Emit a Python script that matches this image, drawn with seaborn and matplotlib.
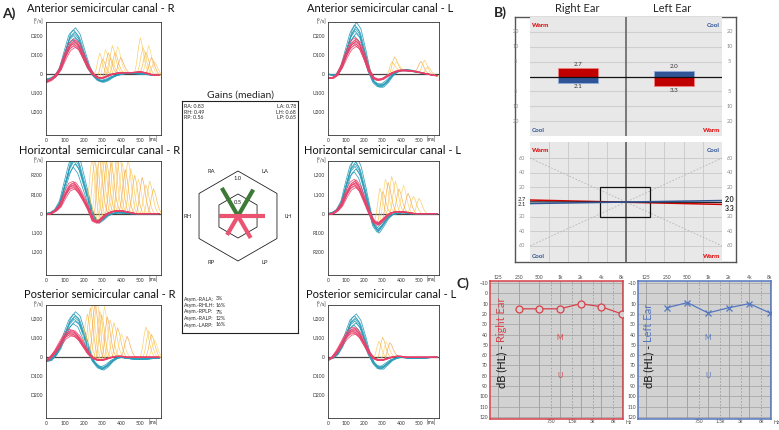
import numpy as np
import pandas as pd
import matplotlib
matplotlib.use('Agg')
import matplotlib.pyplot as plt
from matplotlib.patches import Polygon, Rectangle
import seaborn as sns

# ======================= DATA =======================
# time grid of the read-off curves (ms)
T = [0, 25, 50, 75, 100, 125, 150, 175, 200, 225, 250, 275, 300,
     325, 350, 375, 400, 425, 450, 475, 500, 525, 550, 575, 600]

# Anterior R
AR_BLUE = [-30, -25, -10, 30, 110, 190, 215, 185, 110, 40, -5, -30, -38,
           -30, -15, -5, 0, 5, 5, 3, 2, 0, -3, -5, -5]
AR_PINK = [-40, -30, -10, 25, 90, 145, 165, 145, 90, 35, 0, -18, -20,
           -10, 0, 5, 8, 8, 8, 10, 12, 8, 0, -5, -5]
AR_SACC = [(255, 130), (270, 100), (285, 145), (300, 120), (312, 90), (322, 150),
           (336, 110), (350, 140), (366, 80), (470, 180), (485, 130), (500, 110),
           (515, 150), (530, 90), (545, 70)]
# Horizontal R
HR_BLUE = [0, 5, 20, 60, 150, 240, 290, 250, 160, 70, -10, -45, -30,
           -10, 0, 5, 5, 2, 0, 0, 0, 0, 0, 0, 0]
HR_PINK = [-5, 0, 15, 40, 95, 140, 150, 120, 75, 25, -35, -45, -20,
           0, 10, 15, 15, 10, 5, 0, 0, 0, 0, 0, 0]
HR_SACC = [(215, 320), (228, 330), (240, 300), (252, 340), (265, 320), (278, 300),
           (290, 280), (300, 330), (315, 260), (330, 310), (345, 280), (360, 300),
           (375, 250), (390, 220), (405, 280), (420, 230), (440, 200), (460, 180),
           (480, 190), (500, 150), (520, 170), (540, 130)]
# Posterior R
PR_BLUE = [-20, -15, 10, 50, 120, 180, 210, 190, 120, 40, -20, -50, -60,
           -45, -20, -5, 0, -5, -8, -10, -10, -10, -8, -5, -5]
PR_PINK = [-20, 0, 30, 70, 110, 130, 125, 100, 60, 20, -5, -15, -15,
           -8, 0, 5, 5, 0, 0, 0, 0, 0, 0, 0, 0]
PR_SACC = [(190, 200), (205, 250), (215, 280), (230, 300), (240, 320), (255, 260),
           (265, 240), (280, 280), (295, 220), (310, 200), (330, 180), (350, 150),
           (370, 120), (400, 110), (500, 160), (515, 140), (530, 120), (545, 90)]
# Anterior L
AL_BLUE = [0, -5, 0, 40, 120, 200, 240, 210, 120, 20, -40, -60, -60,
           -40, -10, 10, 20, 22, 20, 15, 10, 5, 0, -5, -8]
AL_PINK = [-20, -20, -5, 40, 100, 150, 170, 150, 90, 20, -20, -30, -25,
           -10, 5, 15, 20, 20, 18, 15, 10, 5, 0, -5, -8]
AL_SACC = [(320, 60), (335, 80), (345, 50), (480, 60), (500, 70), (520, 40)]
# Horizontal L
HL_BLUE = [0, 5, 20, 60, 150, 230, 260, 220, 130, 30, -60, -90, -60,
           -25, -5, 0, 5, 5, 0, 0, 0, 0, 0, 0, 0]
HL_PINK = [-5, 0, 15, 45, 100, 145, 160, 130, 70, 10, -40, -55, -35,
           -10, 5, 10, 10, 8, 5, 0, 0, 0, 0, 0, 0]
HL_SACC = [(255, 180), (270, 150), (285, 200), (300, 170), (320, 190), (340, 160),
           (360, 120), (385, 140), (410, 100), (440, 90), (470, 80)]
# Posterior L
PL_BLUE = [-10, -5, 15, 55, 120, 180, 200, 170, 100, 20, -30, -55, -55,
           -35, -15, -5, 0, -3, -5, -5, -5, -5, -3, 0, 0]
PL_PINK = [-15, 0, 30, 70, 110, 135, 140, 115, 70, 25, -5, -15, -15,
           -8, 0, 5, 5, 0, 0, 0, 0, 0, 0, 0, 0]
PL_SACC = [(250, 100), (270, 120), (290, 90), (310, 80)]

# trace spread (amplitude factor, time shift in ms)
BLUE_SCALE = [0.84, 0.9, 0.95, 1.0, 1.04, 1.09, 1.14]
BLUE_SHIFT = [-6, 4, -2, 0, 3, -4, 6]
PINK_SCALE = [0.86, 0.9, 0.94, 0.97, 1.0, 1.03, 1.06, 1.1, 1.13]
PINK_SHIFT = [5, -3, 2, -6, 0, 4, -2, 6, -5]
SACC_T = [0, 10, 20, 30, 40, 50, 60, 70, 80]
SACC_SHAPE = [0, 0.25, 0.7, 1.0, 0.8, 0.45, 0.2, 0.05, 0]
SACC_COLORS = ['#f9c74f', '#f6b23e', '#fbd56c', '#f4a04a', '#fcc65a']

TICKS_A = ['D200', 'D100', '0', 'U100', 'U200']
TICKS_H = ['R200', 'R100', '0', 'L100', 'L200']
TICKS_HL = ['L200', 'L100', '0', 'R100', 'R200']
TICKS_P = ['U200', 'U100', '0', 'D100', 'D200']

# Gains
GAIN_NAMES = ['RA', 'LA', 'RH', 'LH', 'RP', 'LP']
GAIN_VALUES = [0.83, 0.78, 0.49, 0.68, 0.56, 0.65]
GAIN_ANGLES = [120, 60, 180, 0, 240, 300]
ASYM_NAMES = ['Asym.-RALA:', 'Asym.-RHLH:', 'Asym.-RPLP:', 'Asym.-RALP:', 'Asym.-LARP:']
ASYM_VALUES = ['3%', '16%', '7%', '12%', '16%']

# Caloric
EARS = ['Right Ear', 'Left Ear']
WARM = [2.7, 3.3]      # right warm up, left warm down
COOL = [2.1, 2.0]      # right cool down, left cool up
CAL_TICKS = [5, 10, 20]
RED_LINE = [2.7, -3.3]
BLUE_LINE = [-2.1, 2.0]
BLACK_LINE = [0.3, -0.65]

# Audiograms
FREQS = [250, 500, 1000, 2000, 4000, 8000]
RIGHT_DB = [15, 15, 15, 10, 13, 20]
LEFT_DB = [14, 9, 19, 14, 10, 19]
FREQ_MAIN = [125, 250, 500, 1000, 2000, 4000, 8000]
FREQ_MAIN_LBL = ['125', '250', '500', '1k', '2k', '4k', '8k']
FREQ_MID = [750, 1500, 3000, 6000]
FREQ_MID_LBL = ['750', '1.5k', '3k', '6k']
M_DB, U_DB = 43, 80

# ======================= STYLE =======================
sns.set_theme(style='white')
plt.rcParams['font.family'] = ['Liberation Sans Narrow', 'Lato', 'DejaVu Sans']
plt.rcParams['axes.linewidth'] = 0.6

BLUE_C = '#2a9cb8'
PINK_C = '#e8406a'
W, H = 779, 430
fig = plt.figure(figsize=(W / 100, H / 100), dpi=100)
fig.patch.set_facecolor('white')


def pax(x0, y0, x1, y1):
    return fig.add_axes([x0 / W, 1 - y1 / H, (x1 - x0) / W, (y1 - y0) / H])


def ftext(x, y, s, **kw):
    return fig.text(x / W, 1 - y / H, s, **kw)


def impulse(rect, title, tx, ty, blue, pink, sacc, labels):
    ax = pax(*rect)
    tt = np.arange(0, 601, 4)
    rows = []
    for i, (s, d) in enumerate(zip(BLUE_SCALE, BLUE_SHIFT)):
        rows.append(pd.DataFrame({'t': tt, 'v': s * np.interp(tt - d, T, blue), 'u': i}))
    sns.lineplot(data=pd.concat(rows), x='t', y='v', units='u', estimator=None,
                 color=BLUE_C, lw=0.6, alpha=0.9, ax=ax, legend=False)
    rows = []
    for i, (on, pk) in enumerate(sacc):
        ts = np.arange(on - 30, on + 110, 3)
        v = np.interp(ts, T, pink) + pk * np.interp(ts - on, SACC_T, SACC_SHAPE)
        rows.append(pd.DataFrame({'t': ts, 'v': v, 'u': i}))
    if rows:
        dfs = pd.concat(rows)
        pal = {i: SACC_COLORS[i % len(SACC_COLORS)] for i in range(len(sacc))}
        sns.lineplot(data=dfs, x='t', y='v', hue='u', units='u', estimator=None,
                     palette=pal, lw=0.5, alpha=0.85, ax=ax, legend=False)
    rows = []
    for i, (s, d) in enumerate(zip(PINK_SCALE, PINK_SHIFT)):
        rows.append(pd.DataFrame({'t': tt, 'v': s * np.interp(tt - d, T, pink), 'u': i}))
    sns.lineplot(data=pd.concat(rows), x='t', y='v', units='u', estimator=None,
                 color=PINK_C, lw=0.6, alpha=0.85, ax=ax, legend=False)
    ax.axhline(0, color='#444444', lw=0.9, zorder=1.5)
    ax.set_xlim(0, 610)
    ax.set_ylim(-320, 275)
    ax.set_yticks([200, 100, 0, -100, -200], labels=labels)
    ax.set_xticks([0, 100, 200, 300, 400, 500])
    ax.tick_params(labelsize=3.6, length=1.5, width=0.4, pad=1, colors='#333333')
    ax.set_xlabel('')
    ax.set_ylabel('')
    for s in ax.spines.values():
        s.set_color('#333333')
        s.set_linewidth(0.6)
    ax.text(-0.02, 1.0, '[°/s]', transform=ax.transAxes, ha='right', va='center', fontsize=3.6)
    ax.text(0.93, -0.015, '[ms]', transform=ax.transAxes, ha='center', va='top', fontsize=3.6)
    ftext(tx, ty, title, ha='center', va='center', fontsize=8, color='#111111')
    return ax


impulse((46, 22, 161, 135), 'Anterior semicircular canal - R', 101, 8, AR_BLUE, AR_PINK, AR_SACC, TICKS_A)
impulse((46, 161, 161, 275), 'Horizontal  semicircular canal - R', 100, 151, HR_BLUE, HR_PINK, HR_SACC, TICKS_H)
impulse((46, 305, 161, 418), 'Posterior semicircular canal - R', 100, 294, PR_BLUE, PR_PINK, PR_SACC, TICKS_P)
impulse((328, 22, 439, 135), 'Anterior semicircular canal - L', 380, 8, AL_BLUE, AL_PINK, AL_SACC, TICKS_A)
impulse((328, 161, 439, 275), 'Horizontal semicircular canal - L', 382, 151, HL_BLUE, HL_PINK, HL_SACC, TICKS_HL)
impulse((328, 305, 439, 418), 'Posterior semicircular canal - L', 381, 294, PL_BLUE, PL_PINK, PL_SACC, TICKS_P)
ftext(9, 14, 'A)', ha='center', va='center', fontsize=10, fontweight='bold')

# ---------------- Gains ----------------
axG = pax(182, 101, 298, 333)
axG.set_xlim(182, 298)
axG.set_ylim(333, 101)
axG.set_xticks([])
axG.set_yticks([])
for s in axG.spines.values():
    s.set_color('#222222')
    s.set_linewidth(0.8)
cx, cy = 238, 216
ang = np.deg2rad([90, 30, -30, -90, -150, 150])
for r in (45, 22):
    axG.add_patch(Polygon(np.c_[cx + r * np.cos(ang), cy - r * np.sin(ang)], closed=True,
                          fill=False, lw=0.6, ec='#222222'))
unit = 39
for i in range(6):
    a = np.deg2rad(GAIN_ANGLES[i])
    g = GAIN_VALUES[i]
    col = '#3d7a35' if GAIN_NAMES[i].endswith('A') else '#ea5470'
    z = 3 if col == '#ea5470' else 2
    axG.plot([cx, cx + g * unit * np.cos(a)], [cy, cy - g * unit * np.sin(a)],
             color=col, lw=3.0, solid_capstyle='butt', zorder=z)
for name, a in zip(GAIN_NAMES, GAIN_ANGLES):
    rr = 50 if a in (0, 180) else 53
    axG.text(cx + rr * np.cos(np.deg2rad(a)), cy - rr * np.sin(np.deg2rad(a)) + 1, name,
             ha='center', va='center', fontsize=4.2)
axG.text(cx, cy - 37, '1.0', ha='center', va='center', fontsize=4.2)
axG.text(cx, cy - 14, '0.5', ha='center', va='center', fontsize=4.2)
axG.text(184, 104, '\n'.join(f'{n}: {v:.2f}' for n, v in zip(GAIN_NAMES[0::2], GAIN_VALUES[0::2])),
         ha='left', va='top', fontsize=3.8, linespacing=1.15)
axG.text(296, 104, '\n'.join(f'{n}: {v:.2f}' for n, v in zip(GAIN_NAMES[1::2], GAIN_VALUES[1::2])),
         ha='right', va='top', fontsize=3.8, linespacing=1.15)
for k, (n, v) in enumerate(zip(ASYM_NAMES, ASYM_VALUES)):
    axG.text(184, 299 + 6.5 * k, n, ha='left', va='center', fontsize=3.7)
    axG.text(216, 299 + 6.5 * k, v, ha='left', va='center', fontsize=3.7)
ftext(240, 95, 'Gains (median)', ha='center', va='center', fontsize=7.5)

# ---------------- B: caloric ----------------
ftext(500, 13, 'B)', ha='center', va='center', fontsize=10, fontweight='bold')
axF = pax(515, 17, 736, 262)
axF.set_xticks([]); axF.set_yticks([])
axF.set_facecolor('white')
for s in axF.spines.values():
    s.set_color('#555555'); s.set_linewidth(1.0)
GREY_BG = '#e8e8e8'


def cmap(v):
    return np.sign(v) * np.interp(abs(v), [0, 5, 10, 20, 30], [0, 1, 2, 3, 4])


axB1 = pax(530, 17, 722, 136)
axB1.set_facecolor(GREY_BG)
axB1.set_xlim(-0.5, 1.5)
axB1.set_ylim(-4, 4)
axB1.set_xticks([]); axB1.set_yticks([])
for s in axB1.spines.values():
    s.set_visible(False)
for v in CAL_TICKS:
    for sg in (1, -1):
        axB1.axhline(sg * cmap(v), color='#cfcfcf', lw=0.8)
        for xx in (-0.65, 1.58):
            axB1.text(xx, sg * cmap(v), str(v), ha='center', va='center', fontsize=4, color='#888888',
                      clip_on=False)
axB1.axvline(0.5, color='#666666', lw=1.2)
axB1.axhline(0, color='#111111', lw=0.9, zorder=3)
up = [cmap(WARM[0]), cmap(COOL[1])]
dn = [-cmap(COOL[0]), -cmap(WARM[1])]
axB1.bar([0, 1], up, width=0.42, color=['#c00000', '#2f5597'], edgecolor=['#f08080', '#8faadc'], lw=0.6, zorder=2)
axB1.bar([0, 1], dn, width=0.42, color=['#2f5597', '#c00000'], edgecolor=['#8faadc', '#f08080'], lw=0.6, zorder=2)
axB1.text(0, up[0] + 0.1, f'{WARM[0]:.1f}', ha='center', va='bottom', fontsize=4.5, color='#333333')
axB1.text(0, dn[0] - 0.1, f'{COOL[0]:.1f}', ha='center', va='top', fontsize=4.5, color='#333333')
axB1.text(1, up[1] + 0.1, f'{COOL[1]:.1f}', ha='center', va='bottom', fontsize=4.5, color='#333333')
axB1.text(1, dn[1] - 0.1, f'{WARM[1]:.1f}', ha='center', va='top', fontsize=4.5, color='#333333')
ftext(577, 8, EARS[0], ha='center', va='center', fontsize=8)
ftext(672, 8, EARS[1], ha='center', va='center', fontsize=8)

axB2 = pax(530, 142, 722, 262)
axB2.set_facecolor(GREY_BG)
axB2.set_xlim(-100, 100)
axB2.set_ylim(-82, 82)
axB2.set_xticks([]); axB2.set_yticks([])
for s in axB2.spines.values():
    s.set_visible(False)
for xv in range(-80, 81, 20):
    axB2.axvline(xv, color='#c8c8c8', lw=0.6)
for yv in (-60, -40, -20, 20, 40, 60):
    axB2.axhline(yv, color='#c8c8c8', lw=0.6)
    for xx in (-108, 108):
        axB2.text(xx, yv, str(abs(yv)), ha='center', va='center', fontsize=4, color='#888888', clip_on=False)
axB2.plot([-100, 100], [60, -60], color='#b5b5b5', lw=0.6, ls=(0, (2, 2)))
axB2.plot([-100, 100], [-60, 60], color='#b5b5b5', lw=0.6, ls=(0, (2, 2)))
axB2.axvline(0, color='#555555', lw=1.1)
axB2.add_patch(Rectangle((-27, -20), 52, 40, fill=False, ec='#111111', lw=0.9, zorder=4))
axB2.plot([-100, 100], RED_LINE, color='#d00000', lw=1.1, zorder=5)
axB2.plot([-100, 100], BLACK_LINE, color='#222222', lw=0.8, zorder=5)
axB2.plot([-100, 100], BLUE_LINE, color='#2f5597', lw=1.1, zorder=5)
axB2.text(-108, 3.5, f'{RED_LINE[0]:.1f}', ha='center', va='center', fontsize=4.3, clip_on=False)
axB2.text(-108, -3.5, f'{-BLUE_LINE[0]:.1f}', ha='center', va='center', fontsize=4.3, clip_on=False)
axB2.text(108, 3, f'{BLUE_LINE[1]:.1f}', ha='center', va='center', fontsize=5, fontweight='bold', clip_on=False)
axB2.text(108, -9, f'{-RED_LINE[1]:.1f}', ha='center', va='center', fontsize=5, fontweight='bold', clip_on=False)
for axb in (axB1, axB2):
    axb.text(0.01, 0.93, 'Warm', transform=axb.transAxes, color='#e00000', fontsize=4.5, fontweight='bold', ha='left', va='center')
    axb.text(0.01, 0.05, 'Cool', transform=axb.transAxes, color='#2f5597', fontsize=4.5, fontweight='bold', ha='left', va='center')
    axb.text(0.99, 0.93, 'Cool', transform=axb.transAxes, color='#2f5597', fontsize=4.5, fontweight='bold', ha='right', va='center')
    axb.text(0.99, 0.05, 'Warm', transform=axb.transAxes, color='#e00000', fontsize=4.5, fontweight='bold', ha='right', va='center')

# ---------------- C: audiograms ----------------
ftext(463, 284, 'C)', ha='center', va='center', fontsize=10, fontweight='bold')


def audiogram(rect, vals, marker, color, ear, lab_x):
    ax = pax(*rect)
    ax.set_facecolor('#d2d2d2')
    ax.set_xscale('log', base=2)
    for f in FREQ_MAIN:
        ax.axvline(f, color='#9c9c9c', lw=0.6, zorder=1)
    for f in FREQ_MID:
        ax.axvline(f, color='#9c9c9c', lw=0.6, ls=(0, (2, 2)), zorder=1)
    for d in range(-10, 121, 10):
        ax.axhline(d, color='#a0a0a0', lw=0.5, zorder=1)
    df = pd.DataFrame({'f': FREQS, 'db': vals})
    if marker == 'o':
        sns.lineplot(data=df, x='f', y='db', color=color, lw=0.9, marker='o', markersize=5,
                     markerfacecolor='#d2d2d2', markeredgecolor=color, markeredgewidth=0.9, ax=ax, zorder=4)
    else:
        sns.lineplot(data=df, x='f', y='db', color=color, lw=0.9, marker='x', markersize=5,
                     markeredgecolor=color, markeredgewidth=0.9, ax=ax, zorder=4)
    ax.set_xlim(95, 8300)
    ax.set_ylim(122, -12)
    ax.set_xticks(FREQ_MAIN, labels=FREQ_MAIN_LBL)
    ax.set_xticks(FREQ_MID, labels=FREQ_MID_LBL, minor=True)
    ax.tick_params(which='major', top=False, bottom=False, labeltop=True, labelbottom=False,
                   labelsize=3.6, pad=1.0, length=0, colors='#444444')
    ax.tick_params(which='minor', top=False, bottom=False, labeltop=False, labelbottom=True,
                   labelsize=3.6, pad=0.3, length=0, colors='#444444')
    ax.set_yticks(list(range(-10, 121, 10)))
    ax.tick_params(axis='y', left=False, labelsize=3.6, pad=1.5, length=0, colors='#444444')
    ax.set_xlabel(''); ax.set_ylabel('')
    for s in ax.spines.values():
        s.set_color(color); s.set_linewidth(1.1)
    ax.text(1000, M_DB, 'M', ha='center', va='center', fontsize=5, color=color)
    ax.text(1000, U_DB, 'U', ha='center', va='center', fontsize=5, color=color)
    ax.text(1.04, -0.005, 'Hz', transform=ax.transAxes, ha='center', va='top', fontsize=3.6, color='#444444')
    t1 = ftext(lab_x, 388, 'dB (HL) - ', rotation=90, ha='center', va='bottom', fontsize=8, color='#111111')
    fig.canvas.draw()
    bb = t1.get_window_extent()
    ytop = bb.y1 / fig.dpi / fig.get_figheight()
    fig.text(lab_x / W, ytop, ear, rotation=90, ha='center', va='bottom', fontsize=8, color=color)
    return ax


audiogram((490, 281, 623, 419), RIGHT_DB, 'o', '#d9414a', 'Right Ear', 502)
audiogram((638, 281, 771, 419), LEFT_DB, 'x', '#5577c0', 'Left Ear', 649)

fig.savefig('out.png', dpi=100, facecolor='white')
